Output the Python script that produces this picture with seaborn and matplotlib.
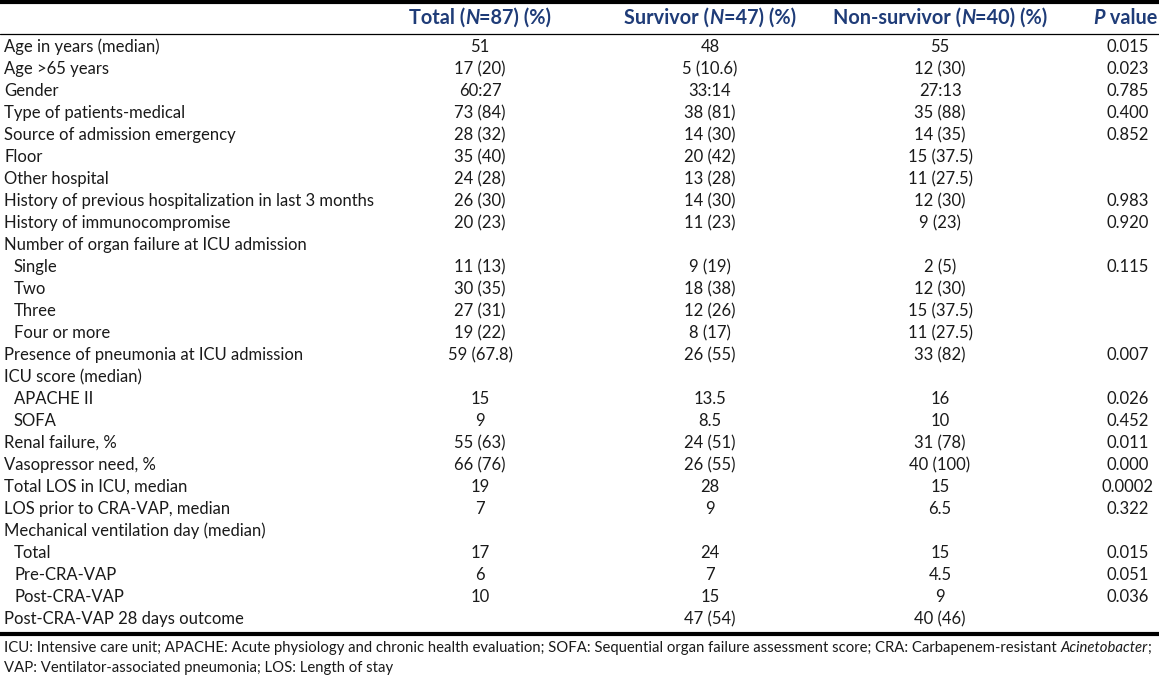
import matplotlib
matplotlib.use("Agg")
import matplotlib.pyplot as plt
import seaborn as sns

# ---------------- data ----------------
row_labels = [
    "Age in years (median)", "Age >65 years", "Gender", "Type of patients-medical",
    "Source of admission emergency", "Floor", "Other hospital",
    "History of previous hospitalization in last 3 months", "History of immunocompromise",
    "Number of organ failure at ICU admission", "Single", "Two", "Three", "Four or more",
    "Presence of pneumonia at ICU admission", "ICU score (median)", "APACHE II", "SOFA",
    "Renal failure, %", "Vasopressor need, %", "Total LOS in ICU, median",
    "LOS prior to CRA-VAP, median", "Mechanical ventilation day (median)",
    "Total", "Pre-CRA-VAP", "Post-CRA-VAP", "Post-CRA-VAP 28 days outcome",
]
sub_items = {"Single", "Two", "Three", "Four or more", "APACHE II", "SOFA",
             "Total", "Pre-CRA-VAP", "Post-CRA-VAP"}
total = ["51", "17 (20)", "60:27", "73 (84)", "28 (32)", "35 (40)", "24 (28)", "26 (30)",
         "20 (23)", "", "11 (13)", "30 (35)", "27 (31)", "19 (22)", "59 (67.8)", "", "15", "9",
         "55 (63)", "66 (76)", "19", "7", "", "17", "6", "10", ""]
survivor = ["48", "5 (10.6)", "33:14", "38 (81)", "14 (30)", "20 (42)", "13 (28)", "14 (30)",
            "11 (23)", "", "9 (19)", "18 (38)", "12 (26)", "8 (17)", "26 (55)", "", "13.5", "8.5",
            "24 (51)", "26 (55)", "28", "9", "", "24", "7", "15", "47 (54)"]
nonsurvivor = ["55", "12 (30)", "27:13", "35 (88)", "14 (35)", "15 (37.5)", "11 (27.5)",
               "12 (30)", "9 (23)", "", "2 (5)", "12 (30)", "15 (37.5)", "11 (27.5)", "33 (82)",
               "", "16", "10", "31 (78)", "40 (100)", "15", "6.5", "", "15", "4.5", "9", "40 (46)"]
pvalue = ["0.015", "0.023", "0.785", "0.400", "0.852", "", "", "0.983", "0.920", "", "0.115",
          "", "", "", "0.007", "", "0.026", "0.452", "0.011", "0.000", "0.0002", "0.322", "",
          "0.015", "0.051", "0.036", ""]
headers = [
    [("Total (", "normal"), ("N", "italic"), ("=87) (%)", "normal")],
    [("Survivor (", "normal"), ("N", "italic"), ("=47) (%)", "normal")],
    [("Non-survivor (", "normal"), ("N", "italic"), ("=40) (%)", "normal")],
    [("P", "italic"), (" value", "normal")],
]
footnote1 = [("ICU: Intensive care unit; APACHE: Acute physiology and chronic health evaluation; "
              "SOFA: Sequential organ failure assessment score; CRA: Carbapenem-resistant ", "normal"),
             ("Acinetobacter", "italic"), (";", "normal")]
footnote2 = [("VAP: Ventilator-associated pneumonia; LOS: Length of stay", "normal")]

# ---------------- layout ----------------
sns.set_theme(style="white")
FONT = ["Lato", "DejaVu Sans"]
plt.rcParams["font.family"] = FONT

W, H = 1159, 678
fig = plt.figure(figsize=(W / 100, H / 100), dpi=100)
ax = fig.add_axes([0, 0, 1, 1])
ax.set_xlim(0, W)
ax.set_ylim(H, 0)
ax.axis("off")
renderer = fig.canvas.get_renderer()

def width_px(s, size, weight="normal", style="normal"):
    t = ax.text(0, 0, s, fontsize=size, fontweight=weight, fontstyle=style)
    w = t.get_window_extent(renderer).width
    t.remove()
    return w

def runs_width(runs, size, weight="normal"):
    return sum(width_px(s, size, weight, st) for s, st in runs)

# fit font sizes so text widths match the reference
base = 10.0
fs = base * 372.0 / width_px(row_labels[7], base)
ffs = base * 1146.0 / runs_width(footnote1, base)
hfs = base * 142.0 / runs_width(headers[0], base, "bold")

col_x = [480, 710, 940, 1128]
head_x = [480, 710, 940, 1125]
header_color = "#1f3c78"
text_color = "#1a1a1a"
y0 = 47
dy = 22.0

ax.axhline(1.5, color="black", lw=3.0)
ax.axhline(33.5, color="black", lw=0.9)
ax.axhline(634, color="black", lw=3.0)

def draw_runs(runs, x, y, size, align="left", color="black", weight="normal"):
    widths = [width_px(s, size, weight, st) for s, st in runs]
    total_w = sum(widths)
    if align == "center":
        x = x - total_w / 2
    for (s, st), w in zip(runs, widths):
        ax.text(x, y, s, fontsize=size, fontstyle=st, fontweight=weight, color=color,
                va="center", ha="left")
        x += w

for cx, runs in zip(head_x, headers):
    draw_runs(runs, cx, 18, hfs, align="center", color=header_color, weight="bold")

for i, lab in enumerate(row_labels):
    y = y0 + i * dy
    x = 14 if lab in sub_items else 4
    ax.text(x, y, lab, fontsize=fs, va="center", ha="left", color=text_color)
    for cx, col in zip(col_x, [total, survivor, nonsurvivor, pvalue]):
        if col[i]:
            ax.text(cx, y, col[i], fontsize=fs, va="center", ha="center", color=text_color)

draw_runs(footnote1, 4, 648, ffs, color=text_color)
draw_runs(footnote2, 4, 668, ffs, color=text_color)

fig.savefig("out.png", dpi=100, facecolor="white")
